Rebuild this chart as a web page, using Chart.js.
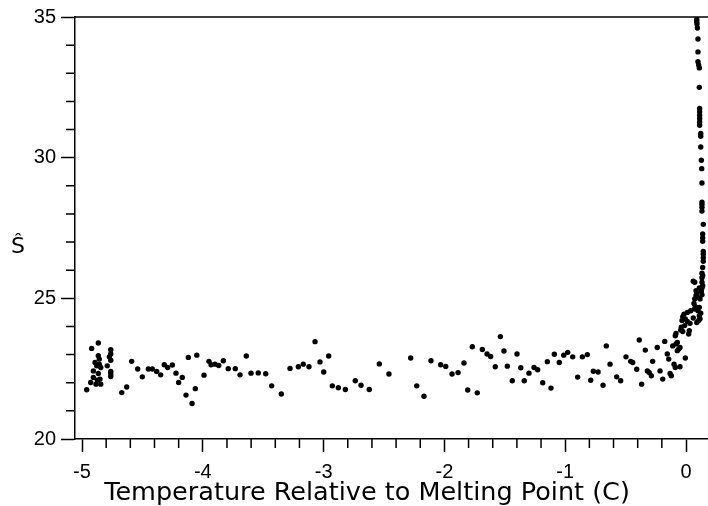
<!DOCTYPE html>
<html>
<head>
<meta charset="utf-8">
<title>S-hat vs temperature</title>
<script src="https://cdn.jsdelivr.net/npm/chart.js@4/dist/chart.umd.min.js"></script>
<style>
    body { margin: 0; background: #fff; }
    canvas { display: block; }
</style>
</head>
<body>
<canvas id="sChart" width="708" height="506"></canvas>
<script>
// Temperature relative to melting point (C)
const tempRel = [
    -4.961, -4.928, -4.920, -4.906, -4.906, -4.892, -4.884, -4.878, -4.873, -4.865,
    -4.865, -4.865, -4.857, -4.857, -4.851, -4.845, -4.845, -4.791, -4.774, -4.762,
    -4.762, -4.762, -4.762, -4.762, -4.762, -4.671, -4.630, -4.589, -4.539, -4.501,
    -4.451, -4.418, -4.382, -4.349, -4.319, -4.291, -4.252, -4.222, -4.200, -4.170,
    -4.139, -4.120, -4.089, -4.062, -4.050, -3.990, -3.949, -3.932, -3.899, -3.868,
    -3.830, -3.789, -3.731, -3.692, -3.640, -3.601, -3.541, -3.479, -3.430, -3.350,
    -3.278, -3.209, -3.168, -3.121, -3.071, -3.030, -2.999, -2.958, -2.928, -2.878,
    -2.820, -2.738, -2.690, -2.622, -2.539, -2.459, -2.279, -2.229, -2.169, -2.111,
    -2.031, -1.989, -1.937, -1.887, -1.838, -1.807, -1.769, -1.728, -1.686, -1.647,
    -1.617, -1.579, -1.537, -1.507, -1.479, -1.438, -1.399, -1.368, -1.339, -1.300,
    -1.258, -1.228, -1.186, -1.148, -1.118, -1.090, -1.049, -1.012, -0.979, -0.938,
    -0.897, -0.858, -0.817, -0.789, -0.767, -0.728, -0.687, -0.660, -0.629, -0.574,
    -0.541, -0.497, -0.458, -0.441, -0.408, -0.387, -0.367, -0.337, -0.320, -0.304,
    -0.287, -0.276, -0.238, -0.215, -0.193, -0.176, -0.155, -0.143, -0.132, -0.122,
    -0.110, -0.099, -0.089, -0.089, -0.083, -0.083, -0.072, -0.072, -0.060, -0.050,
    -0.050, -0.044, -0.039, -0.033, -0.027, -0.027, -0.017, -0.011, -0.006, -0.006,
    0.011, 0.011, 0.022, 0.027, 0.033, 0.039, 0.060, 0.060, 0.066, 0.072,
    0.072, 0.072, 0.077, 0.083, 0.083, 0.089, 0.089, 0.094, 0.099, 0.105,
    0.110, 0.110, 0.110, 0.116, 0.116, 0.122, 0.127, 0.132, 0.132, 0.138,
    0.132, 0.132, 0.138, 0.132, 0.138, 0.143, 0.143, 0.143, 0.143, 0.138,
    0.138, 0.138, 0.143, 0.132, 0.132, 0.132, 0.132, 0.132, 0.130, 0.127,
    0.122, 0.122, 0.122, 0.113, 0.113, 0.113, 0.113, 0.113, 0.113, 0.110,
    0.110, 0.105, 0.099, 0.099, 0.099, 0.094, 0.091, 0.089, 0.089
];

// S-hat values matching tempRel
const sHat = [
    21.75, 22.01, 23.22, 22.19, 22.42, 22.72, 21.95, 22.60, 22.09, 23.41,
    22.96, 22.33, 22.66, 22.84, 22.13, 21.95, 22.54, 22.60, 22.92, 23.17,
    23.02, 22.80, 22.40, 22.31, 22.22, 21.65, 21.85, 22.76, 22.49, 22.21,
    22.49, 22.49, 22.40, 22.28, 22.64, 22.54, 22.63, 22.34, 22.01, 22.19,
    21.56, 22.90, 21.26, 21.79, 22.98, 22.27, 22.76, 22.64, 22.66, 22.61,
    22.78, 22.50, 22.50, 22.28, 22.95, 22.34, 22.35, 22.32, 21.89, 21.60,
    22.51, 22.57, 22.66, 22.57, 23.46, 22.74, 22.38, 22.95, 21.89, 21.82,
    21.76, 22.07, 21.91, 21.76, 22.67, 22.31, 22.88, 21.89, 21.52, 22.78,
    22.64, 22.58, 22.31, 22.36, 22.70, 21.74, 23.28, 21.64, 23.18, 23.02,
    22.93, 22.57, 23.64, 23.13, 22.59, 22.07, 23.02, 22.53, 22.07, 22.34,
    22.54, 22.46, 22.00, 22.75, 21.81, 23.01, 22.72, 22.98, 23.08, 22.92,
    22.20, 22.92, 23.00, 22.09, 22.41, 22.38, 21.91, 23.31, 22.66, 22.21,
    22.07, 22.92, 22.76, 22.72, 22.48, 23.52, 21.95, 23.16, 22.42, 22.36,
    22.25, 22.76, 23.25, 22.42, 22.13, 23.47, 23.02, 22.84, 22.33, 22.25,
    23.31, 22.66, 22.54, 23.67, 23.38, 23.75, 23.43, 23.14, 23.20, 23.25,
    22.57, 23.87, 23.97, 24.21, 24.35, 23.82, 24.44, 24.03, 22.88, 24.27,
    24.18, 24.50, 23.73, 23.85, 24.11, 24.56, 24.30, 25.61, 24.82, 24.98,
    25.57, 24.62, 24.70, 25.27, 25.10, 25.18, 24.14, 25.04, 24.56, 24.21,
    24.38, 24.68, 25.37, 24.27, 24.98, 24.47, 25.25, 25.13, 25.37, 25.45,
    25.57, 25.73, 25.81, 25.89, 26.10, 26.32, 26.44, 26.58, 26.67, 27.03,
    27.15, 27.29, 27.63, 28.10, 28.24, 28.34, 28.42, 29.10, 29.61, 29.91,
    30.38, 30.76, 30.86, 31.15, 31.27, 31.39, 31.51, 31.63, 31.75, 32.50,
    33.19, 33.29, 33.41, 33.76, 34.22, 34.61, 34.75, 34.83, 34.92
];

// Axis ranges and tick labels
const xRange = [-5.058, 0.182];
const xMajorTicks = [-5, -4, -3, -2, -1, 0];
const yRange = [20, 35];
const yMajorTicks = [20, 25, 30, 35];
const xTitle = 'Temperature Relative to Melting Point (C)';
const yTitle = 'Ŝ';

const points = tempRel.map((t, i) => ({ x: t, y: sHat[i] }));

// Minor ticks, top frame line and axis titles
const framePlugin = {
    id: 'frame',
    afterDraw(chart) {
        const ctx = chart.ctx;
        const area = chart.chartArea;
        const xs = chart.scales.x;
        const ys = chart.scales.y;
        ctx.save();
        ctx.strokeStyle = '#000';
        ctx.lineWidth = 1.5;
        ctx.beginPath();
        // top border
        ctx.moveTo(area.left, area.top);
        ctx.lineTo(area.right, area.top);
        // minor x ticks every 0.2
        for (let i = -25; i <= 0; i++) {
            if (i % 5 === 0) continue;
            const px = xs.getPixelForValue(i * 0.2);
            ctx.moveTo(px, area.bottom);
            ctx.lineTo(px, area.bottom + 9);
        }
        // minor y ticks every 1
        for (let v = 21; v < 35; v++) {
            if (v % 5 === 0) continue;
            const py = ys.getPixelForValue(v);
            ctx.moveTo(area.left - 9, py);
            ctx.lineTo(area.left, py);
        }
        ctx.stroke();

        ctx.fillStyle = '#000';
        ctx.textAlign = 'center';
        ctx.textBaseline = 'alphabetic';
        ctx.font = '25.5px "DejaVu Sans"';
        ctx.fillText(xTitle, 367, 500);
        ctx.font = '22px "DejaVu Sans"';
        ctx.fillText(yTitle, 18, 253);
        ctx.restore();
    }
};

new Chart(document.getElementById('sChart'), {
    type: 'scatter',
    data: {
        datasets: [{
            data: points,
            backgroundColor: '#000',
            borderWidth: 0,
            pointRadius: 2.7,
            pointHoverRadius: 2.7
        }]
    },
    options: {
        responsive: false,
        animation: false,
        events: [],
        layout: { autoPadding: false, padding: { top: 17, right: 0, left: 0, bottom: 0 } },
        plugins: { legend: { display: false }, tooltip: { enabled: false } },
        scales: {
            x: {
                type: 'linear',
                min: xRange[0],
                max: xRange[1],
                afterBuildTicks: scale => { scale.ticks = xMajorTicks.map(v => ({ value: v })); },
                afterFit: scale => { scale.height = 67; },
                grid: { drawOnChartArea: false, tickLength: 13, tickWidth: 1.5, tickColor: '#000' },
                border: { color: '#000', width: 1.5 },
                ticks: {
                    color: '#000',
                    padding: 8,
                    maxRotation: 0,
                    font: { family: '"Liberation Sans", Arial, sans-serif', size: 20 }
                }
            },
            y: {
                type: 'linear',
                min: yRange[0],
                max: yRange[1],
                afterBuildTicks: scale => { scale.ticks = yMajorTicks.map(v => ({ value: v })); },
                afterFit: scale => { scale.width = 75; },
                grid: { drawOnChartArea: false, tickLength: 14, tickWidth: 1.5, tickColor: '#000' },
                border: { color: '#000', width: 1.5 },
                ticks: {
                    color: '#000',
                    padding: 5,
                    font: { family: '"Liberation Sans", Arial, sans-serif', size: 20 }
                }
            }
        }
    },
    plugins: [framePlugin]
});
</script>
</body>
</html>
